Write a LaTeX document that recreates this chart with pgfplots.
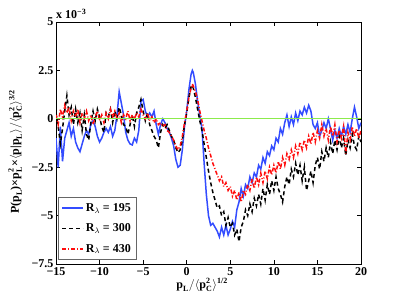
\documentclass[border=0pt]{standalone}
\usepackage{amsmath}
\usepackage{fontspec}
\setmainfont{Liberation Serif}
\usepackage{pgfplots}
\usepackage{pgfplotstable}
\pgfplotsset{compat=1.18}
\definecolor{myblue}{rgb}{0.2,0.3,1}
\definecolor{myred}{rgb}{1,0.05,0.05}
\definecolor{mygreen}{rgb}{0.55,0.92,0.3}
\pgfplotstableread[row sep=\\]{
x y\\
-15.00 -1.0\\ -14.75 -2.5\\ -14.50 -0.4\\ -14.25 -2.2\\ -14.00 -1.0\\ -13.75 -0.6\\ -13.50 -0.2\\ -13.25 -0.9\\
-13.00 -0.5\\ -12.75 -1.2\\ -12.50 -1.5\\ -12.25 -1.7\\ -12.00 -1.3\\ -11.75 -0.9\\ -11.50 -0.6\\ -11.25 -0.8\\
-11.00 -0.3\\ -10.75 -0.1\\ -10.50 -0.4\\ -10.25 -0.9\\ -10.00 -1.2\\ -9.75 -1.0\\ -9.50 -0.7\\ -9.25 -0.5\\
-9.00 -0.7\\ -8.75 -0.4\\ -8.50 -0.9\\ -8.25 -0.6\\ -8.00 0.2\\ -7.75 1.4\\ -7.50 0.8\\ -7.25 0.2\\
-7.00 -0.7\\ -6.75 -1.1\\ -6.50 -1.3\\ -6.25 -1.35\\ -6.00 -1.0\\ -5.75 -1.2\\ -5.50 -0.6\\ -5.25 0.9\\
-5.00 1.0\\ -4.75 0.4\\ -4.50 0.1\\ -4.25 0.3\\ -4.00 0.1\\ -3.75 0.4\\ -3.50 -0.3\\ -3.25 -0.8\\
-3.00 -0.3\\ -2.75 0.0\\ -2.50 -0.2\\ -2.25 -0.5\\ -2.00 -0.7\\ -1.75 -1.0\\ -1.50 -1.4\\ -1.25 -2.1\\
-1.00 -2.5\\ -0.75 -2.4\\ -0.50 -1.6\\ -0.25 -0.4\\ 0.00 0.4\\ 0.25 1.5\\ 0.50 2.3\\ 0.65 2.5\\ 0.75 2.4\\
1.00 1.8\\ 1.25 0.9\\ 1.50 0.2\\ 1.75 -0.5\\ 2.00 -2.3\\ 2.25 -3.9\\ 2.50 -5.0\\ 2.75 -5.5\\
3.00 -5.4\\ 3.25 -5.6\\ 3.50 -5.8\\ 3.75 -6.1\\ 4.00 -5.6\\ 4.25 -6.0\\ 4.50 -5.5\\ 4.75 -6.0\\
5.00 -5.7\\ 5.25 -5.3\\ 5.50 -5.6\\ 5.75 -4.7\\ 6.00 -4.3\\ 6.25 -3.6\\ 6.50 -4.0\\ 6.75 -3.4\\
7.00 -3.6\\ 7.25 -3.0\\ 7.50 -3.3\\ 7.75 -2.8\\ 8.00 -3.0\\ 8.25 -2.4\\ 8.50 -2.6\\ 8.75 -2.0\\
9.00 -2.3\\ 9.25 -1.7\\ 9.50 -1.9\\ 9.75 -1.4\\ 10.00 -1.6\\ 10.25 -1.0\\ 10.50 -1.2\\ 10.75 -0.5\\
11.00 -0.8\\ 11.25 -0.2\\ 11.50 0.2\\ 11.75 -0.4\\ 12.00 0.1\\ 12.25 -0.3\\ 12.50 0.3\\ 12.75 -0.1\\
13.00 0.4\\ 13.25 0.2\\ 13.50 0.6\\ 13.75 0.3\\ 14.00 0.7\\ 14.25 0.4\\ 14.50 -0.3\\ 14.75 -0.5\\
15.00 -0.2\\ 15.25 -0.9\\ 15.50 -0.6\\ 15.75 -0.2\\ 16.00 -0.5\\ 16.25 0.0\\ 16.50 -0.5\\ 16.75 -1.1\\
17.00 -0.6\\ 17.25 -1.0\\ 17.50 -0.5\\ 17.75 -0.9\\ 18.00 -0.4\\ 18.25 -0.8\\ 18.50 -0.3\\ 18.75 -0.7\\
19.00 0.0\\ 19.25 0.6\\ 19.50 0.1\\ 19.75 -0.5\\ 20.00 -0.2\\
}\blue
\pgfplotstableread[row sep=\\]{
x y\\
-15.00 0.3\\ -14.75 -0.4\\ -14.50 -1.3\\ -14.25 -0.5\\ -14.00 0.4\\ -13.75 1.2\\ -13.50 0.2\\ -13.25 0.6\\
-13.00 -0.3\\ -12.75 0.5\\ -12.50 -0.2\\ -12.25 0.3\\ -12.00 -0.6\\ -11.75 0.2\\ -11.50 -0.8\\ -11.25 -1.1\\
-11.00 -0.2\\ -10.75 0.4\\ -10.50 -0.1\\ -10.25 0.5\\ -10.00 0.1\\ -9.75 -0.4\\ -9.50 -0.7\\ -9.25 0.3\\
-9.00 0.1\\ -8.75 0.5\\ -8.50 -0.2\\ -8.25 0.4\\ -8.00 0.0\\ -7.75 0.6\\ -7.50 0.2\\ -7.25 -0.3\\
-7.00 -0.4\\ -6.75 -0.8\\ -6.50 -0.3\\ -6.25 0.2\\ -6.00 -0.4\\ -5.75 0.3\\ -5.50 0.6\\ -5.25 1.0\\
-5.00 0.4\\ -4.75 -0.1\\ -4.50 0.3\\ -4.25 -0.3\\ -4.00 -0.6\\ -3.75 -0.9\\ -3.50 -1.1\\ -3.25 -1.5\\
-3.00 -0.7\\ -2.75 -0.3\\ -2.50 -0.5\\ -2.25 -0.3\\ -2.00 -0.6\\ -1.75 -0.9\\ -1.50 -1.1\\ -1.25 -1.5\\
-1.00 -1.75\\ -0.75 -1.6\\ -0.50 -1.1\\ -0.25 -0.3\\ 0.00 0.3\\ 0.25 1.1\\ 0.50 1.65\\ 0.60 1.75\\ 0.75 1.6\\
1.00 1.1\\ 1.25 0.5\\ 1.50 -0.1\\ 1.75 -0.6\\ 2.00 -1.3\\ 2.25 -2.0\\ 2.50 -2.7\\ 2.75 -3.3\\
3.00 -3.8\\ 3.25 -4.2\\ 3.50 -4.6\\ 3.75 -4.5\\ 4.00 -5.0\\ 4.25 -4.8\\ 4.50 -5.5\\ 4.75 -5.1\\
5.00 -5.6\\ 5.25 -5.4\\ 5.50 -6.0\\ 5.75 -5.7\\ 6.00 -6.35\\ 6.25 -5.6\\ 6.50 -5.3\\ 6.75 -4.7\\
7.00 -5.0\\ 7.25 -4.4\\ 7.50 -4.8\\ 7.75 -4.1\\ 8.00 -4.5\\ 8.25 -3.9\\ 8.50 -4.4\\ 8.75 -3.6\\
9.00 -4.2\\ 9.25 -3.4\\ 9.50 -3.9\\ 9.75 -3.2\\ 10.00 -3.7\\ 10.25 -3.0\\ 10.50 -3.6\\ 10.75 -3.9\\
11.00 -4.3\\ 11.25 -3.5\\ 11.50 -3.0\\ 11.75 -3.4\\ 12.00 -2.6\\ 12.25 -3.0\\ 12.50 -2.3\\ 12.75 -2.9\\
13.00 -2.4\\ 13.25 -3.2\\ 13.50 -2.5\\ 13.75 -3.7\\ 14.00 -3.2\\ 14.25 -2.7\\ 14.50 -3.3\\ 14.75 -2.4\\
15.00 -2.0\\ 15.25 -2.6\\ 15.50 -1.7\\ 15.75 -2.2\\ 16.00 -1.5\\ 16.25 -2.0\\ 16.50 -1.2\\ 16.75 -1.8\\
17.00 -1.1\\ 17.25 -1.6\\ 17.50 -0.9\\ 17.75 -1.5\\ 18.00 -1.0\\ 18.25 -1.9\\ 18.50 -1.1\\ 18.75 -1.5\\
19.00 -0.8\\ 19.25 -1.4\\ 19.50 -1.6\\ 19.75 -0.9\\ 20.00 -1.2\\
}\black
\pgfplotstableread[row sep=\\]{
x y\\
-15.00 0.2\\ -14.75 -0.3\\ -14.50 0.5\\ -14.25 0.1\\ -14.00 0.7\\ -13.75 0.3\\ -13.50 0.6\\ -13.25 -0.1\\
-13.00 0.4\\ -12.75 0.1\\ -12.50 0.5\\ -12.25 -0.2\\ -12.00 0.3\\ -11.75 0.0\\ -11.50 0.4\\ -11.25 -0.1\\
-11.00 0.2\\ -10.75 -0.3\\ -10.50 0.1\\ -10.25 0.4\\ -10.00 -0.1\\ -9.75 0.2\\ -9.50 -0.2\\ -9.25 0.3\\
-9.00 0.0\\ -8.75 0.5\\ -8.50 0.1\\ -8.25 0.4\\ -8.00 0.0\\ -7.75 0.3\\ -7.50 -0.2\\ -7.25 0.2\\
-7.00 0.0\\ -6.75 0.4\\ -6.50 -0.1\\ -6.25 0.2\\ -6.00 0.0\\ -5.75 0.3\\ -5.50 0.1\\ -5.25 0.5\\
-5.00 0.2\\ -4.75 0.0\\ -4.50 0.3\\ -4.25 -0.1\\ -4.00 0.1\\ -3.75 -0.2\\ -3.50 0.0\\ -3.25 -0.3\\
-3.00 -0.2\\ -2.75 -0.4\\ -2.50 -0.3\\ -2.25 -0.6\\ -2.00 -0.7\\ -1.75 -0.9\\ -1.50 -1.1\\ -1.25 -1.4\\
-1.00 -1.6\\ -0.75 -1.4\\ -0.50 -0.9\\ -0.25 -0.2\\ 0.00 0.4\\ 0.25 1.1\\ 0.50 1.6\\ 0.65 1.8\\ 0.75 1.7\\
1.00 1.4\\ 1.25 1.0\\ 1.50 0.4\\ 1.75 -0.1\\ 2.00 -0.6\\ 2.25 -1.0\\ 2.50 -1.5\\ 2.75 -1.9\\
3.00 -2.3\\ 3.25 -2.6\\ 3.50 -2.9\\ 3.75 -3.2\\ 4.00 -3.0\\ 4.25 -3.5\\ 4.50 -3.3\\ 4.75 -3.7\\
5.00 -3.5\\ 5.25 -4.0\\ 5.50 -3.7\\ 5.75 -4.2\\ 6.00 -3.8\\ 6.25 -4.3\\ 6.50 -3.7\\ 6.75 -3.9\\
7.00 -3.4\\ 7.25 -3.7\\ 7.50 -3.1\\ 7.75 -3.6\\ 8.00 -3.0\\ 8.25 -3.4\\ 8.50 -2.8\\ 8.75 -3.3\\
9.00 -2.7\\ 9.25 -3.1\\ 9.50 -2.5\\ 9.75 -2.9\\ 10.00 -2.4\\ 10.25 -2.8\\ 10.50 -2.2\\ 10.75 -2.6\\
11.00 -2.0\\ 11.25 -2.4\\ 11.50 -1.8\\ 11.75 -2.1\\ 12.00 -1.6\\ 12.25 -2.0\\ 12.50 -1.4\\ 12.75 -1.8\\
13.00 -1.2\\ 13.25 -1.6\\ 13.50 -1.1\\ 13.75 -1.5\\ 14.00 -0.9\\ 14.25 -1.3\\ 14.50 -0.7\\ 14.75 -1.2\\
15.00 -0.6\\ 15.25 -1.0\\ 15.50 -0.3\\ 15.75 -0.9\\ 16.00 -0.5\\ 16.25 -1.1\\ 16.50 -0.4\\ 16.75 -0.9\\
17.00 -0.3\\ 17.25 -1.2\\ 17.50 -0.6\\ 17.75 -1.0\\ 18.00 -0.4\\ 18.25 -1.8\\ 18.50 -0.7\\ 18.75 -1.1\\
19.00 -0.4\\ 19.25 -0.9\\ 19.50 -0.5\\ 19.75 -1.0\\ 20.00 -0.6\\
}\red
\newcommand\fnt{\fontsize{12}{14}\selectfont\bfseries}
\begin{document}
\begin{tikzpicture}
\begin{axis}[
  scale only axis, width=305pt, height=242pt,
  xmin=-15, xmax=20, ymin=-7.5, ymax=5,
  xtick={-15,-10,-5,0,5,10,15,20},
  xticklabels={−15,−10,−5,0,5,10,15,20},
  ytick={-7.5,-5,-2.5,0,2.5,5},
  yticklabels={−7.5,−5,−2.5,0,2.5,5},
  tick align=inside, major tick length=4pt,
  tick style={black, line width=0.5pt},
  axis line style={line width=0.6pt},
  tick label style={font=\fnt},
  xticklabel style={yshift=0pt},
  yticklabel style={xshift=1pt},
  label style={font=\fnt},
  xlabel={$\text{p}_{\text{L}}/\langle\text{p}_{\text{C}}^{\text{2}}\rangle^{\text{1/2}}$},
  ylabel={$\text{P(p}_{\text{L}}\text{)×p}_{\text{L}}^{\text{2}}\text{×}\langle\text{p|p}_{\text{L}}\rangle/\langle\text{p}_{\text{C}}^{\text{2}}\rangle^{\text{3/2}}$},
  xlabel style={at={(axis description cs:0.479,-0.087)}, anchor=center},
  ylabel style={at={(axis description cs:-0.134,0.463)}, anchor=center, rotate=0},
  legend style={at={(rel axis cs:0.007,0.017)}, anchor=south west,
    font=\fnt, draw=black!60,
    row sep=7pt, inner xsep=3pt, inner ysep=4pt},
  legend cell align=left,
  legend image code/.code={\draw[#1] (0pt,0pt) -- (21pt,0pt);},
]
\addplot[myblue, line width=1.5pt] table {\blue};
\addlegendentry{$\text{R}_{\lambda}$ = 195}
\addplot[black, line width=1.5pt, dash pattern=on 4pt off 3pt] table {\black};
\addlegendentry{$\text{R}_{\lambda}$ = 300}
\addplot[myred, line width=1.5pt, dash pattern=on 4pt off 2pt on 1pt off 2pt] table {\red};
\addlegendentry{$\text{R}_{\lambda}$ = 430}
\addplot[mygreen, line width=1pt, forget plot] coordinates {(-15,0) (20,0)};
\end{axis}
\node[anchor=south west, inner sep=0pt, font=\fnt] at ([yshift=3pt]current axis.north west) {x 10$^{\text{−3}}$};
\pgfresetboundingbox
\path ([shift={(-56pt,-35pt)}]current axis.south west) rectangle ([shift={(38pt,22pt)}]current axis.north east);
\end{tikzpicture}
\end{document}
